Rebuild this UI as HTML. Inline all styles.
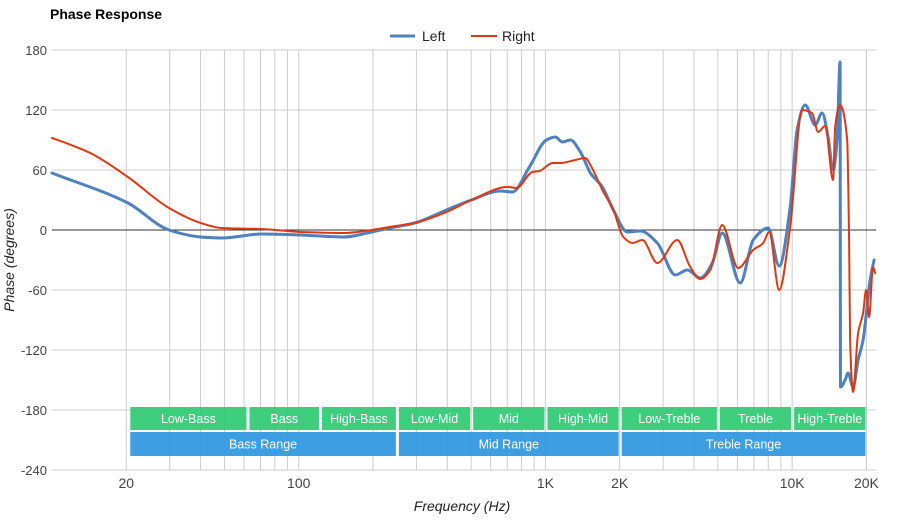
<!DOCTYPE html>
<html><head><meta charset="utf-8"><style>
body{margin:0;background:#fff;font-family:"Liberation Sans",sans-serif}
svg text{font-family:"Liberation Sans",sans-serif}
</style></head><body>
<svg id="chart" width="900" height="520" xmlns="http://www.w3.org/2000/svg">
<text x="50" y="19" font-size="14" font-weight="bold" fill="#000">Phase Response</text>
<g>
<g><line x1="390" y1="36" x2="415" y2="36" stroke="#4f81bd" stroke-width="3"/><text x="422" y="41" font-size="14" fill="#222">Left</text></g>
<g><line x1="471" y1="36" x2="497" y2="36" stroke="#dc3912" stroke-width="2"/><text x="502" y="41" font-size="14" fill="#222">Right</text></g>
</g>
<g id="grid"></g>
<g id="bands"></g>
<g id="series"></g>
<g id="axes"></g>
<text x="462" y="511" font-size="14" font-style="italic" text-anchor="middle" fill="#222">Frequency (Hz)</text>
<text transform="translate(14,260) rotate(-90)" font-size="14" font-style="italic" text-anchor="middle" fill="#222">Phase (degrees)</text>
</svg>
<script>
const yTicks=[180,120,60,0,-60,-120,-180,-240];
const xTickValues=[20,100,1000,2000,10000,20000];
const xTickLabels=["20","100","1K","2K","10K","20K"];
const leftFreq=[10,20.3,29.8,40.1,48.8,70.8,102,152,198,233,295,397,501,657,735,861,1009,1098,1172,1262,1386,1521,1701,1885,2148,2425,2840,3360,3757,4242,4744,5207,6160,6953,7995,8860,9815,10476,11290,12390,13230,13985,14655,15215,15645,15700,16390,16855,17660,18505,19385,20690,21480];
const leftPhase=[57,27,0,-7,-8,-4,-5,-7,-2,2,7,20,30,39,38,63,90,93,88,90,78,57,43,20,-2,-1,-13,-45,-40,-48,-33,-3,-53,-10,2,-36,23,100,125,105,117,93,60,90,168,-157,-150,-143,-157,-130,-110,-50,-30];
const rightFreq=[10,11.1,14.3,20.3,29.8,40.1,48.8,70.8,102,152,198,233,295,397,501,702,763,886,946,1067,1150,1322,1452,1521,1701,1885,2069,2250,2470,2840,3423,3864,4242,4657,5207,6040,6953,7630,8070,8860,9815,10970,12040,12740,13610,14655,14940,15630,16710,17010,17180,17660,18505,19385,19940,20500,21280,21680];
const rightPhase=[92,88,77,53,22,7,2,1,-2,-3,0,3,7,18,30,43,42,58,59,67,67,70,72,65,40,20,-7,-13,-10,-33,-10,-37,-49,-40,5,-38,-20,-13,-2,-60,3,120,117,98,104,50,103,125,90,-10,-110,-162,-103,-83,-60,-87,-37,-43];
const bandNames=["Low-Bass","Bass","High-Bass","Low-Mid","Mid","High-Mid","Low-Treble","Treble","High-Treble"];
const bandEdges=[20,62,122,250,500,1000,2000,5000,10000,20000];
const rangeNames=["Bass Range","Mid Range","Treble Range"];
const rangeEdges=[20,250,2000,20000];

const NS="http://www.w3.org/2000/svg";
const X0=52,X1=876,Y0=50,Y1=470;
const fMin=10,fMax=21870;
function xs(f){return X0+(Math.log10(f)-Math.log10(fMin))/(Math.log10(fMax)-Math.log10(fMin))*(X1-X0);}
function ys(v){return Y0+(180-v)/420*(Y1-Y0);}
function mk(tag,attrs,parent){const e=document.createElementNS(NS,tag);for(const k in attrs)e.setAttribute(k,attrs[k]);parent.appendChild(e);return e;}
const grid=document.getElementById('grid'),axes=document.getElementById('axes'),bands=document.getElementById('bands'),series=document.getElementById('series');
for(let d=10;d<=10000;d*=10){for(let m=1;m<=9;m++){const f=d*m;if(f<20||f>20000)continue;
const l=mk('line',{x1:xs(f),x2:xs(f),y1:Y0,y2:Y1,stroke:'#cccccc','stroke-width':1},grid);

}}
mk('line',{x1:xs(20000),x2:xs(20000),y1:Y0,y2:Y1,stroke:'#cccccc'},grid);
yTicks.forEach(v=>{
const l=mk('line',{x1:X0,x2:X1,y1:ys(v),y2:ys(v),stroke:v===0?'#333':'#cccccc','stroke-width':1},grid);


const t=mk('text',{x:47,y:ys(v)+5,'font-size':13,'text-anchor':'end',fill:'#444'},axes);t.textContent=v;


});
xTickValues.forEach((f,i)=>{
const t=mk('text',{x:xs(f),y:488,'font-size':14,'text-anchor':'middle',fill:'#444'},axes);t.textContent=xTickLabels[i];


});
function band(a,b,y,h,col,label){
const g=mk('g',{},bands);


const x1=xs(a)+(a===20?4:2), x2=xs(b)-1;
mk('rect',{x:x1,y:y,width:x2-x1,height:h,fill:col,opacity:0.95},g);
const t=mk('text',{x:(x1+x2)/2,y:y+h/2+4.5,'font-size':12.5,'text-anchor':'middle',fill:'#fff'},g);t.textContent=label;}
bandNames.forEach((n,i)=>band(bandEdges[i],bandEdges[i+1],407,23,'#33cc77',n));
rangeNames.forEach((n,i)=>band(rangeEdges[i],rangeEdges[i+1],432,24,'#3399e0',n));
function monotonePath(px,py){
const n=px.length,dx=[],s=[],m=new Array(n);
for(let i=0;i<n-1;i++){dx[i]=Math.max(px[i+1]-px[i],0.01);s[i]=(py[i+1]-py[i])/dx[i];}
m[0]=s[0];m[n-1]=s[n-2];
for(let i=1;i<n-1;i++){m[i]=(s[i-1]*s[i]<=0)?0:3*(dx[i-1]+dx[i])/((2*dx[i]+dx[i-1])/s[i-1]+(dx[i]+2*dx[i-1])/s[i]);}
let d='M'+px[0].toFixed(1)+','+py[0].toFixed(1);
for(let i=0;i<n-1;i++){const h=dx[i]/3;
d+=' C'+(px[i]+h).toFixed(1)+','+(py[i]+m[i]*h).toFixed(1)+' '+(px[i+1]-h).toFixed(1)+','+(py[i+1]-m[i+1]*h).toFixed(1)+' '+px[i+1].toFixed(1)+','+py[i+1].toFixed(1);}
return d;}
function line(fr,ph,col,w,name){
const d=monotonePath(fr.map(xs),ph.map(ys));
const p=mk('path',{d:d,fill:'none',stroke:col,'stroke-width':w,'stroke-linejoin':'round','stroke-linecap':'round'},series);

}
line(leftFreq,leftPhase,'#4f81bd',3,'left-series-line');
line(rightFreq,rightPhase,'#dc3912',2,'right-series-line');
</script>
</body></html>
